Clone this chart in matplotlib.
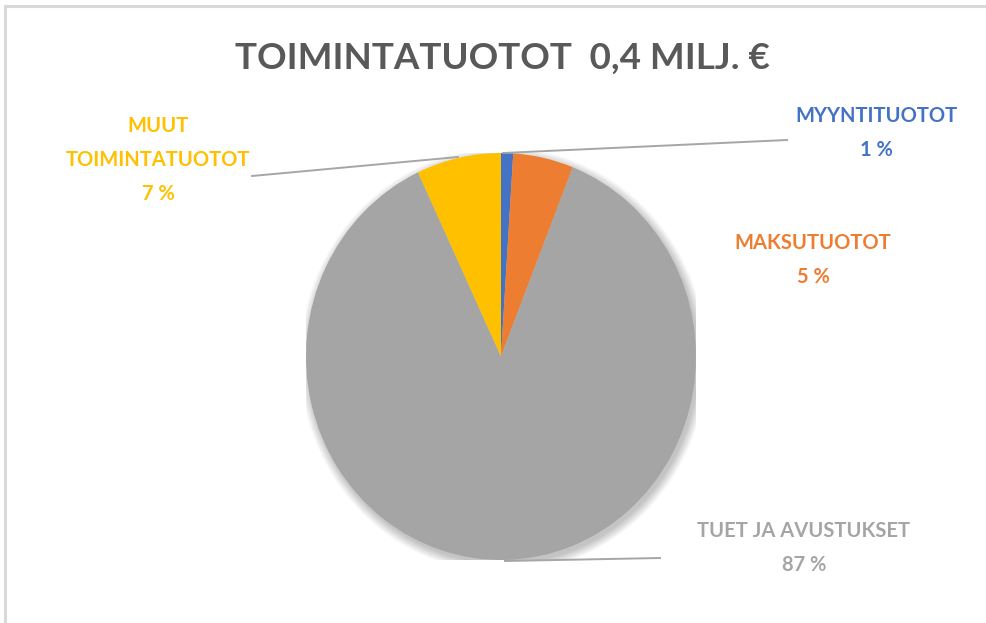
import matplotlib
matplotlib.use("Agg")
import matplotlib.pyplot as plt
from matplotlib.patches import Ellipse
from matplotlib.lines import Line2D

title = "TOIMINTATUOTOT  0,4 MILJ. €"
categories = ["MYYNTITUOTOT", "MAKSUTUOTOT", "TUET JA AVUSTUKSET", "MUUT\nTOIMINTATUOTOT"]
values = [1, 5, 87, 7]
pct_labels = ["1 %", "5 %", "87 %", "7 %"]
colors = ["#4472C4", "#ED7D31", "#A5A5A5", "#FFC000"]

W, H = 987, 623
fig = plt.figure(figsize=(W / 100, H / 100), dpi=100)
fig.patch.set_facecolor("white")

FONT = ["Lato", "DejaVu Sans"]

def fx(px):
    return px / W

def fy(py):
    return 1 - py / H

# border (left and top only visible)
fig.add_artist(Line2D([fx(5), fx(5)], [fy(6), 0], color="#D9D9D9", lw=2.2, transform=fig.transFigure))
fig.add_artist(Line2D([fx(5), 1], [fy(6), fy(6)], color="#D9D9D9", lw=2.2, transform=fig.transFigure))

# pie axes: x [-1,1] -> 306..696 px, y [-1,1] -> 560..153 px
cx0, cx1, cy0, cy1 = 306, 696, 153, 560
ax = fig.add_axes([fx(cx0), fy(cy1), (cx1 - cx0) / W, (cy1 - cy0) / H])

# soft shadow
for i in range(12):
    r = 1.0 + 0.004 * i
    ax.add_patch(Ellipse((0.012, -0.018), 2 * r, 2 * r, facecolor="black",
                         alpha=0.02, edgecolor="none", zorder=0))

wedges, _ = ax.pie(values, colors=colors, startangle=90, counterclock=False,
                   wedgeprops=dict(linewidth=0))
for w in wedges:
    w.set_zorder(2)
ax.set_aspect("auto")
ax.set_xlim(-1, 1)
ax.set_ylim(-1, 1)
ax.axis("off")

# title
fig.text(fx(502), fy(58), title, ha="center", va="center", fontsize=26.5,
         fontweight="bold", color="#595959", family=FONT)

# leader lines
lc = "#A6A6A6"
for (x0, y0), (x1, y1) in [((503, 153), (787, 140)),
                           ((458, 157), (252, 176)),
                           ((505, 561), (660, 558))]:
    fig.add_artist(Line2D([fx(x0), fx(x1)], [fy(y0), fy(y1)], color=lc, lw=1.4,
                          transform=fig.transFigure))

# labels
label_pos = [(876, 116), (813, 243), (804, 531), (158, 126)]
fs = 14.5
lh = 34
for cat, pct, col, (x, y) in zip(categories, pct_labels, colors, label_pos):
    lines = cat.split("\n") + [pct]
    for k, t in enumerate(lines):
        fig.text(fx(x), fy(y + k * lh), t, ha="center", va="center", fontsize=fs,
                 fontweight="bold", color=col, family=FONT)

fig.savefig("out.png", dpi=100, facecolor="white")
